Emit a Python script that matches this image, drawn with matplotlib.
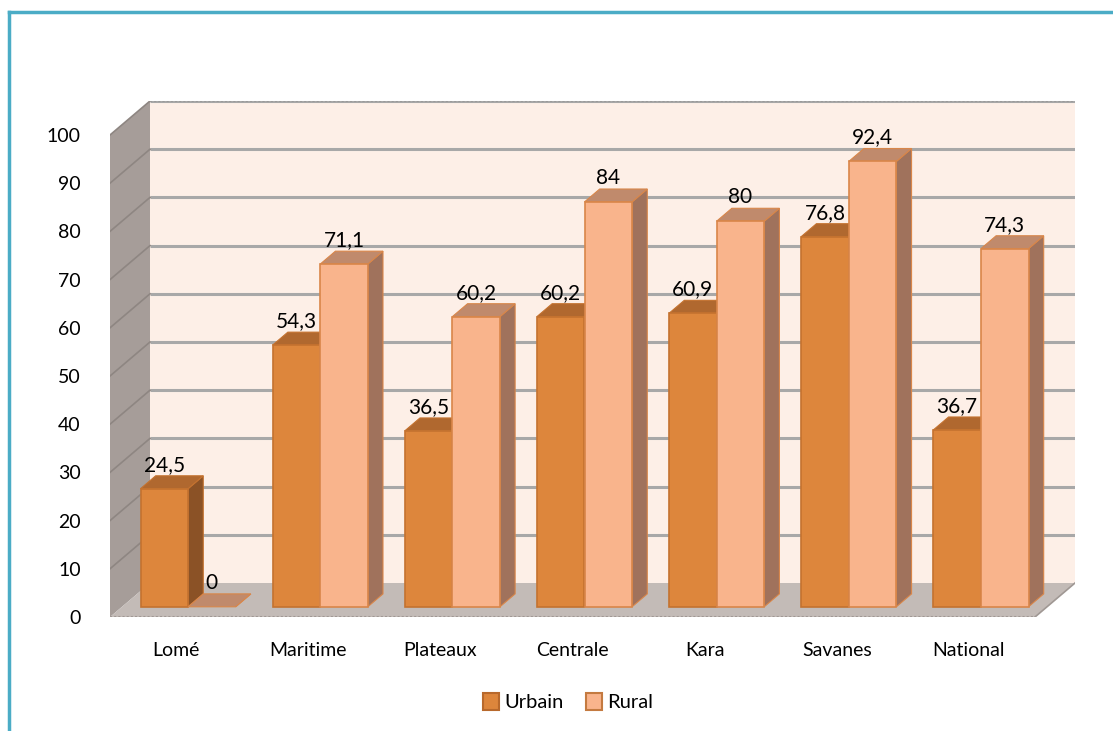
import numpy as np
import matplotlib.pyplot as plt
from matplotlib.patches import Polygon, Rectangle, Patch
from matplotlib.lines import Line2D

plt.rcParams['font.family'] = ['Lato', 'DejaVu Sans']

regions = ['Lomé', 'Maritime', 'Plateaux', 'Centrale', 'Kara', 'Savanes', 'National']
urbain = [24.5, 54.3, 36.5, 60.2, 60.9, 76.8, 36.7]
rural = [0, 71.1, 60.2, 84, 80, 92.4, 74.3]
yticks = [0, 10, 20, 30, 40, 50, 60, 70, 80, 90, 100]

# colours: front, top, side, edge
c_urb = ('#DD863C', '#B0682F', '#8B5226', '#C4722F')
c_rur = ('#F9B48C', '#C08A6C', '#A0725C', '#D98649')

W, H = 1113, 731
fig = plt.figure(figsize=(W / 100, H / 100), dpi=100)

# pixel geometry of the front plane and the depth shift
px_left, px_right = 110, 1035
px_zero, px_top = 617, 135
depth_px = (40, 34)
ncat = len(regions)
x0, x1 = -0.5, ncat - 0.5
xs = (x1 - x0) / (px_right - px_left)
ys = 100 / (px_zero - px_top)
DX = depth_px[0] * xs
DY = depth_px[1] * ys

ax = fig.add_axes([px_left / W, 1 - px_zero / H,
                   (px_right - px_left + depth_px[0]) / W,
                   (px_zero - px_top + depth_px[1]) / H])
ax.set_xlim(x0, x1 + DX)
ax.set_ylim(0, 100 + DY)
for s in ax.spines.values():
    s.set_visible(False)
ax.set_facecolor('none')

# walls and floor
ax.add_patch(Rectangle((x0 + DX, DY), x1 - x0, 100, fc='#FDEFE7', ec='none', zorder=0))
ax.add_patch(Polygon([(x0, 0), (x0 + DX, DY), (x0 + DX, 100 + DY), (x0, 100)],
                     closed=True, fc='#A69D99', ec='none', zorder=0))
ax.add_patch(Polygon([(x0, 0), (x1, 0), (x1 + DX, DY), (x0 + DX, DY)],
                     closed=True, fc='#C3BBB7', ec='none', zorder=0))
for v in yticks[1:]:
    ax.plot([x0 + DX, x1 + DX], [v + DY, v + DY], color='#A8A8A8', lw=2.2, zorder=1,
            solid_capstyle='butt')
    ax.plot([x0, x0 + DX], [v, v + DY], color='#8E8682', lw=1.2, zorder=1)
ax.plot([x0 + DX, x1 + DX], [100 + DY, 100 + DY], color='#9A9A9A', lw=1.5, ls=(0, (1, 1)), zorder=1)
ax.plot([x0, x1], [0, 0], color='#A09894', lw=1.5, ls=(0, (1, 1)), zorder=1)
ax.plot([x1, x1 + DX], [0, DY], color='#A09894', lw=1.2, zorder=1)

# 3d bars
d0, d1 = 0.3, 0.68
bw = 0.36


def bar3d(xl, val, cols):
    front, top, side, edge = cols
    xb = xl + d0 * DX
    yb = d0 * DY
    yt = val + d0 * DY
    dd = d1 - d0
    ax.add_patch(Polygon([(xb + bw, yb), (xb + bw + dd * DX, yb + dd * DY),
                          (xb + bw + dd * DX, yt + dd * DY), (xb + bw, yt)],
                         closed=True, fc=side, ec=edge, lw=0.8, zorder=3))
    ax.add_patch(Polygon([(xb, yt), (xb + bw, yt), (xb + bw + dd * DX, yt + dd * DY),
                          (xb + dd * DX, yt + dd * DY)],
                         closed=True, fc=top, ec=edge, lw=0.8, zorder=3))
    if val > 0:
        ax.add_patch(Rectangle((xb, yb), bw, val, fc=front, ec=edge, lw=1.2, zorder=3))
    lbl = ('%g' % val).replace('.', ',')
    ax.text(xb + bw / 2, yt + dd * DY + 0.2, lbl, ha='center', va='bottom',
            fontsize=15, zorder=5)


for i in range(ncat):
    bar3d(i - bw, urbain[i], c_urb)
    bar3d(i, rural[i], c_rur)

ax.set_xticks(range(ncat))
ax.set_xticklabels(regions, fontsize=14)
ax.set_yticks(yticks)
ax.set_yticklabels([str(v) for v in yticks], fontsize=14)
ax.tick_params(axis='x', length=0, pad=18)
ax.tick_params(axis='y', length=0, pad=21)

handles = [Patch(fc=c_urb[0], ec='#B8692C', lw=1.5, label='Urbain'),
           Patch(fc=c_rur[0], ec='#C47A40', lw=1.5, label='Rural')]
fig.legend(handles=handles, loc='center', bbox_to_anchor=(568 / W, 1 - 702 / H), ncol=2,
           frameon=False, fontsize=14.5, handlelength=0.8, handleheight=0.9,
           handletextpad=0.25, columnspacing=1.1)

# chart area border
fig.add_artist(Line2D([9 / W, 9 / W], [0, 1 - 12 / H], color='#4BACC6', lw=2.5))
fig.add_artist(Line2D([9 / W, 1], [1 - 12 / H, 1 - 12 / H], color='#4BACC6', lw=2.5))

fig.savefig('out.png', dpi=100)
